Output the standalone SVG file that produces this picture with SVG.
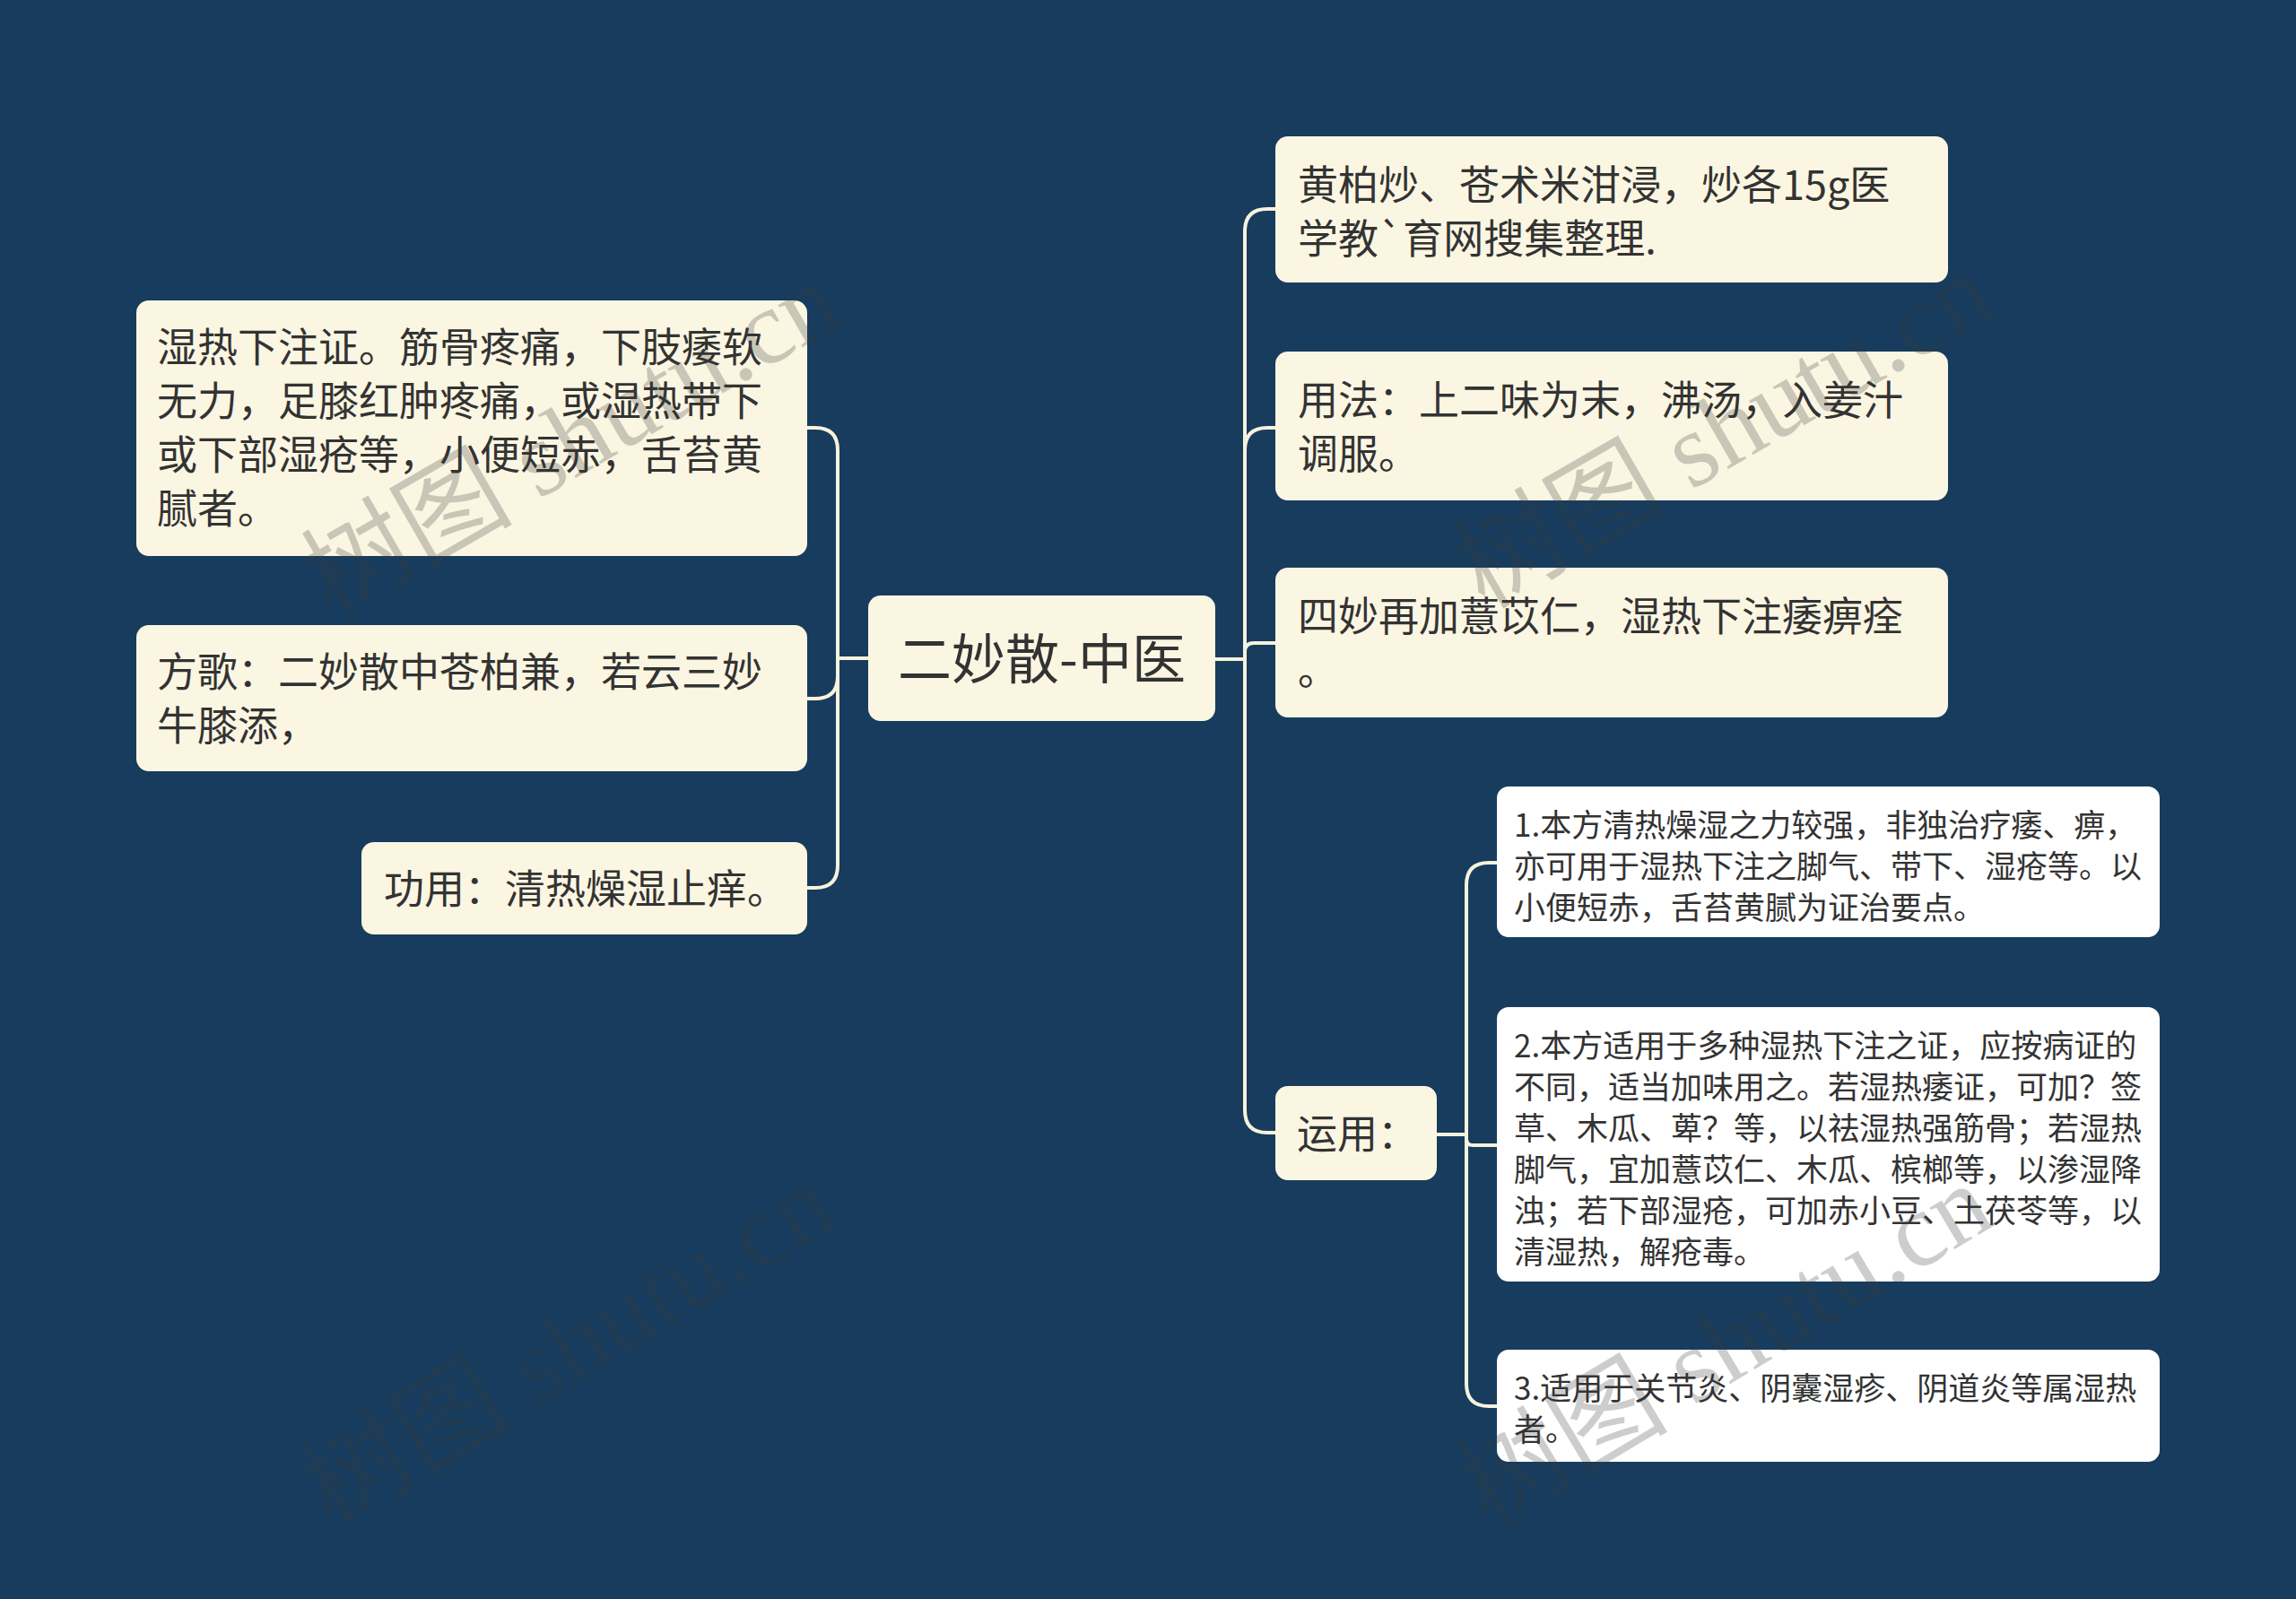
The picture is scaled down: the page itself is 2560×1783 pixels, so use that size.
<svg xmlns="http://www.w3.org/2000/svg" width="2560" height="1783" viewBox="0 0 2560 1783">
<style>
.bg{fill:#173c5d}
.box{fill:#fbf6e2}
.sub{fill:#ffffff}
.t{font-family:"Noto Sans CJK SC","Noto Sans CJK TC",sans-serif;fill:#333333}
.t45{font-size:45px}
.t35{font-size:35px}
.t60{font-size:60px}
.conn{fill:none;stroke:#f7f2dd;stroke-width:4;stroke-linecap:round;stroke-linejoin:round}
.wm{font-size:118px;fill:#3c3c3c;opacity:0.25}
.wmc{font-family:"Noto Sans CJK SC",sans-serif}
.wms{font-family:"Liberation Serif",serif}
</style>
<rect class="bg" x="0" y="0" width="2560" height="1783"/>

<g id="connectors">
  <path class="conn" d="M968 734 H934 V502 Q934 477 909 477 H900"/>
  <path class="conn" d="M968 734 H934 V754 Q934 779 909 779 H900"/>
  <path class="conn" d="M968 734 H934 V965 Q934 990 909 990 H900"/>
  <path class="conn" d="M1355 735 H1388 V258 Q1388 233 1413 233 H1422"/>
  <path class="conn" d="M1355 735 H1388 V502 Q1388 477 1413 477 H1422"/>
  <path class="conn" d="M1355 735 H1388 V727 Q1388 717 1398 717 H1422"/>
  <path class="conn" d="M1355 735 H1388 V1238 Q1388 1263 1413 1263 H1422"/>
  <path class="conn" d="M1602 1265 H1635 V987 Q1635 962 1660 962 H1669"/>
  <path class="conn" d="M1602 1265 H1635 V1270 Q1635 1277 1642 1277 H1669"/>
  <path class="conn" d="M1602 1265 H1635 V1543 Q1635 1568 1660 1568 H1669"/>
</g>

<g id="center">
  <rect class="box" x="968" y="664" width="387" height="140" rx="14"/>
  <text class="t t60" x="1161.5" y="757" text-anchor="middle">二妙散-中医</text>
</g>

<g id="left1">
  <rect class="box" x="152" y="335" width="748" height="285" rx="14"/>
  <text class="t t45" x="175" y="404">湿热下注证。筋骨疼痛，下肢痿软</text>
  <text class="t t45" x="175" y="464">无力，足膝红肿疼痛，或湿热带下</text>
  <text class="t t45" x="175" y="524">或下部湿疮等，小便短赤，舌苔黄</text>
  <text class="t t45" x="175" y="584">腻者。</text>
</g>

<g id="left2">
  <rect class="box" x="152" y="697" width="748" height="163" rx="14"/>
  <text class="t t45" x="175" y="766">方歌：二妙散中苍柏兼，若云三妙</text>
  <text class="t t45" x="175" y="826">牛膝添，</text>
</g>

<g id="left3">
  <rect class="box" x="403" y="939" width="497" height="103" rx="14"/>
  <text class="t t45" x="428" y="1008">功用：清热燥湿止痒。</text>
</g>

<g id="right1">
  <rect class="box" x="1422" y="152" width="750" height="163" rx="14"/>
  <text class="t t45" x="1447" y="223">黄柏炒、苍术米泔浸，炒各15g医</text>
  <text class="t t45" x="1447" y="283">学教`育网搜集整理.</text>
</g>

<g id="right2">
  <rect class="box" x="1422" y="392" width="750" height="166" rx="14"/>
  <text class="t t45" x="1447" y="463">用法：上二味为末，沸汤，入姜汁</text>
  <text class="t t45" x="1447" y="523">调服。</text>
</g>

<g id="right3">
  <rect class="box" x="1422" y="633" width="750" height="167" rx="14"/>
  <text class="t t45" x="1447" y="704">四妙再加薏苡仁，湿热下注痿痹痊</text>
  <text class="t t45" x="1447" y="764">。</text>
</g>

<g id="yunyong">
  <rect class="box" x="1422" y="1211" width="180" height="105" rx="14"/>
  <text class="t t45" x="1446" y="1281">运用：</text>
</g>

<g id="sub1">
  <rect class="sub" x="1669" y="877" width="739" height="168" rx="13"/>
  <text class="t t35" x="1688" y="933">1.本方清热燥湿之力较强，非独治疗痿、痹，</text>
  <text class="t t35" x="1688" y="979">亦可用于湿热下注之脚气、带下、湿疮等。以</text>
  <text class="t t35" x="1688" y="1025">小便短赤，舌苔黄腻为证治要点。</text>
</g>

<g id="sub2">
  <rect class="sub" x="1669" y="1123" width="739" height="306" rx="13"/>
  <text class="t t35" x="1688" y="1179">2.本方适用于多种湿热下注之证，应按病证的</text>
  <text class="t t35" x="1688" y="1225">不同，适当加味用之。若湿热痿证，可加？签</text>
  <text class="t t35" x="1688" y="1271">草、木瓜、萆？等，以祛湿热强筋骨；若湿热</text>
  <text class="t t35" x="1688" y="1317">脚气，宜加薏苡仁、木瓜、槟榔等，以渗湿降</text>
  <text class="t t35" x="1688" y="1363">浊；若下部湿疮，可加赤小豆、土茯苓等，以</text>
  <text class="t t35" x="1688" y="1409">清湿热，解疮毒。</text>
</g>

<g id="sub3">
  <rect class="sub" x="1669" y="1505" width="739" height="125" rx="13"/>
  <text class="t t35" x="1688" y="1561">3.适用于关节炎、阴囊湿疹、阴道炎等属湿热</text>
  <text class="t t35" x="1688" y="1607">者。</text>
</g>

<g id="watermarks">
  <text class="wm" transform="translate(370 690) rotate(-30)"><tspan class="wmc">树图</tspan><tspan class="wms"> shutu.cn</tspan></text>
  <text class="wm" transform="translate(1655 680) rotate(-30)"><tspan class="wmc">树图</tspan><tspan class="wms"> shutu.cn</tspan></text>
  <text class="wm" transform="translate(370 1705) rotate(-31)"><tspan class="wmc">树图</tspan><tspan class="wms"> shutu.cn</tspan></text>
  <text class="wm" transform="translate(1660 1705) rotate(-31)"><tspan class="wmc">树图</tspan><tspan class="wms"> shutu.cn</tspan></text>
</g>
</svg>
